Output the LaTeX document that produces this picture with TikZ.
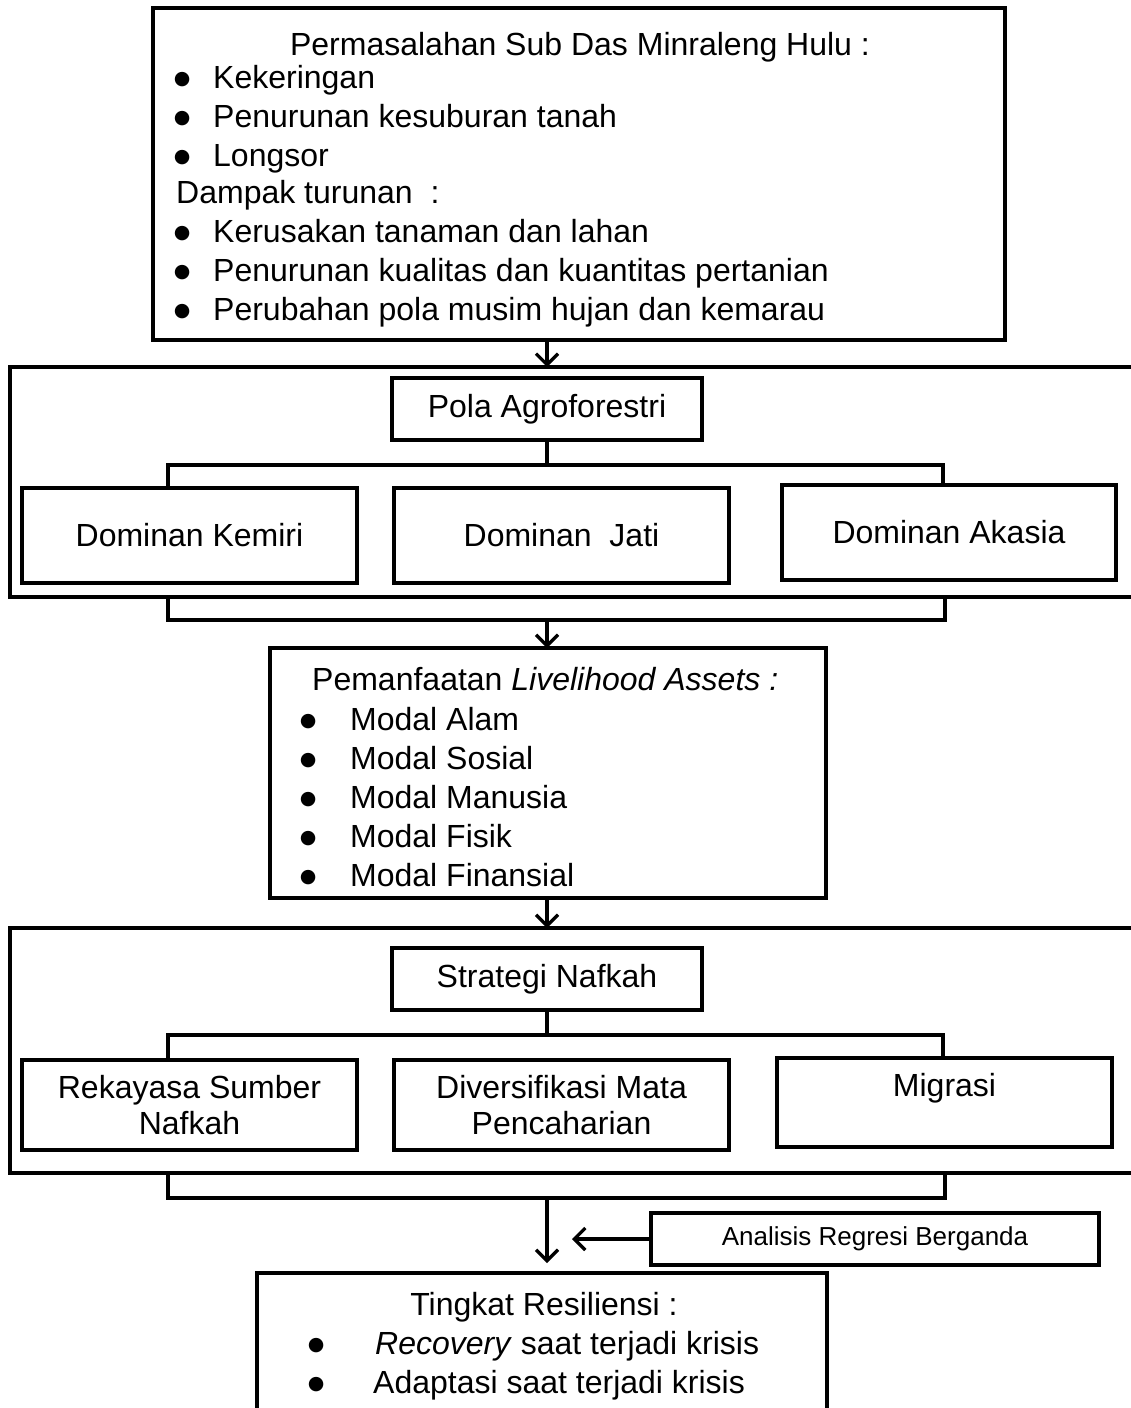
\documentclass[tikz,border=0pt]{standalone}
\usepackage{fontspec}
\setmainfont{Liberation Sans}
\newfontfamily\dotfont{DejaVu Sans}
\usetikzlibrary{arrows.meta}
\newcommand{\bodyfont}{\fontsize{32}{36}\selectfont}
\newcommand{\notefont}{\fontsize{26}{30}\selectfont}
\newcommand{\bul}[1]{\makebox[#1][l]{\makebox[0pt]{\raisebox{4pt}{\dotfont\fontsize{19}{19}\selectfont ●}}}}

\begin{document}
\begin{tikzpicture}[x=1pt,y=-1pt]
    \tikzset{box/.style = {draw, line width=3.2pt, anchor=north west, inner sep=0pt, outer sep=0pt, font=\bodyfont, align=center}}
    \tikzset{txt/.style = {anchor=base west, inner sep=0pt, font=\bodyfont}}
    \tikzset{link/.style = {line width=3.2pt}}
    \tikzset{arr/.style = {link, -{Straight Barb[length=11pt,width=22pt]}}}
    \useasboundingbox (0,0) rectangle (1130,1408);
    % boxes
    \node[box, minimum width=852pt, minimum height=332pt] (problem) at (153,8) {};
    \node[box, minimum width=1130pt, minimum height=230pt] (frameA) at (10,367) {};
    \node[box, minimum width=310pt, minimum height=62pt] (pola) at (392,378) {Pola Agroforestri};
    \node[box, minimum width=335pt, minimum height=95pt] (kemiri) at (22,488) {Dominan Kemiri};
    \node[box, minimum width=335pt, minimum height=95pt] (jati) at (394,488) {Dominan\ \ Jati};
    \node[box, minimum width=334pt, minimum height=95pt] (akasia) at (782,485) {Dominan Akasia};
    \node[box, minimum width=556pt, minimum height=250pt] (assets) at (270,648) {};
    \node[box, minimum width=1130pt, minimum height=245pt] (frameB) at (10,928) {};
    \node[box, minimum width=310pt, minimum height=62pt] (strategi) at (392,948) {Strategi Nafkah};
    \node[box, minimum width=335pt, minimum height=90pt] (rekayasa) at (22,1060) {Rekayasa Sumber\\Nafkah};
    \node[box, minimum width=335pt, minimum height=90pt] (diversi) at (394,1060) {Diversifikasi Mata\\Pencaharian};
    \node[box, minimum width=335pt, minimum height=89pt] (migrasi) at (777,1058) {Migrasi\\\mbox{}};
    \node[box, font=\notefont, minimum width=448pt, minimum height=52pt] (regresi) at (651,1213) {Analisis Regresi Berganda};
    \node[box, minimum width=570pt, minimum height=150pt] (resilien) at (257,1273) {};
    % problem text
    \node[txt, anchor=base] (pTitle) at (580,55) {Permasalahan Sub Das Minraleng Hulu :};
    \node[txt] (p1) at (182,88) {\bul{31pt}Kekeringan};
    \node[txt] (p2) at (182,127) {\bul{31pt}Penurunan kesuburan tanah};
    \node[txt] (p3) at (182,166) {\bul{31pt}Longsor};
    \node[txt] (p4) at (176,203) {Dampak turunan\ \ :};
    \node[txt] (p5) at (182,242) {\bul{31pt}Kerusakan tanaman dan lahan};
    \node[txt] (p6) at (182,281) {\bul{31pt}Penurunan kualitas dan kuantitas pertanian};
    \node[txt] (p7) at (182,320) {\bul{31pt}Perubahan pola musim hujan dan kemarau};
    % assets text
    \node[txt] (aTitle) at (312,690) {Pemanfaatan \textit{Livelihood Assets :}};
    \node[txt] (a1) at (308,730) {\bul{42pt}Modal Alam};
    \node[txt] (a2) at (308,769) {\bul{42pt}Modal Sosial};
    \node[txt] (a3) at (308,808) {\bul{42pt}Modal Manusia};
    \node[txt] (a4) at (308,847) {\bul{42pt}Modal Fisik};
    \node[txt] (a5) at (308,886) {\bul{42pt}Modal Finansial};
    % resilience text
    \node[txt, anchor=base] (rTitle) at (544,1315) {Tingkat Resiliensi :};
    \node[txt] (r1) at (316,1354) {\bul{59pt}\textit{Recovery} saat terjadi krisis};
    \node[txt] (r2) at (316,1393) {\bul{57pt}Adaptasi saat terjadi krisis};
    % bracket corners
    \coordinate (braTL) at (168,465);
    \coordinate (braTR) at (943,465);
    \coordinate (braBL) at (168,620);
    \coordinate (braBR) at (945,620);
    \coordinate (brbTL) at (168,1035);
    \coordinate (brbTR) at (943,1035);
    \coordinate (brbBL) at (168,1198);
    \coordinate (brbBR) at (945,1198);
    \coordinate (resTop) at (547,1263);
    \coordinate (regTip) at (572,1239);
    % edges
    \draw[arr] (pola.north |- problem.south) -- (pola.north |- frameA.north);
    \draw[link] (pola.south) -- (pola.south |- braTL);
    \draw[link] (kemiri.north -| braTL) -- (braTL) -- (braTR) -- (akasia.north -| braTR);
    \draw[link] (frameA.south -| braBL) -- (braBL) -- (braBR) -- (frameA.south -| braBR);
    \draw[arr] (pola.south |- braBL) -- (pola.south |- assets.north);
    \draw[arr] (strategi.north |- assets.south) -- (strategi.north |- frameB.north);
    \draw[link] (strategi.south) -- (strategi.south |- brbTL);
    \draw[link] (rekayasa.north -| brbTL) -- (brbTL) -- (brbTR) -- (migrasi.north -| brbTR);
    \draw[link] (frameB.south -| brbBL) -- (brbBL) -- (brbBR) -- (frameB.south -| brbBR);
    \draw[arr] (strategi.south |- brbBL) -- (resTop);
    \draw[arr] (regresi.west) -- (regTip);
\end{tikzpicture}
\end{document}
